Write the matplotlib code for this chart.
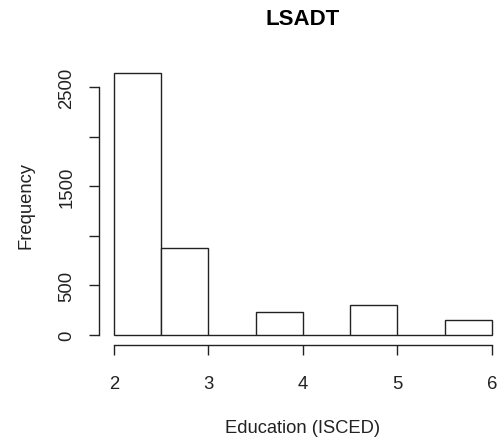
import matplotlib
matplotlib.use("Agg")
import matplotlib.pyplot as plt
import numpy as np

# Histogram of education level (ISCED), bins of width 0.5
bin_edges = [2.0, 2.5, 3.0, 3.5, 4.0, 4.5, 5.0, 5.5, 6.0]
counts = [2641, 877, 0, 232, 0, 302, 0, 151]
x_ticks = [2, 3, 4, 5, 6]
y_ticks = [0, 500, 1000, 1500, 2000, 2500]
y_tick_labels = ["0", "500", "", "1500", "", "2500"]

plt.rcParams['font.family'] = ['Liberation Sans', 'DejaVu Sans']

fig = plt.figure(figsize=(4.99, 4.39), dpi=100)
ax = fig.add_axes([0.198, 0.211, 0.818, 0.644])

lefts = np.array(bin_edges[:-1])
widths = np.diff(bin_edges)
ax.bar(lefts, counts, width=widths, align='edge', facecolor='white',
       edgecolor='#222222', linewidth=1.0)

# R style axis extension (4%)
xr = bin_edges[-1] - bin_edges[0]
ax.set_xlim(bin_edges[0] - 0.04 * xr, bin_edges[-1] + 0.04 * xr)
ymax = max(counts)
ax.set_ylim(-0.04 * ymax, ymax * 1.04)

for s in ['top', 'right']:
    ax.spines[s].set_visible(False)
ax.spines['left'].set_bounds(0, 2500)
ax.spines['bottom'].set_bounds(2, 6)
for s in ['left', 'bottom']:
    ax.spines[s].set_linewidth(1.0)
    ax.spines[s].set_color('#222222')

ax.set_xticks(x_ticks)
ax.set_xticklabels([str(t) for t in x_ticks])
ax.set_yticks(y_ticks)
ax.set_yticklabels(y_tick_labels, rotation=90, va='center')
ax.tick_params(axis='both', length=7.5, width=1.0, color='#222222',
               labelsize=13.3, labelcolor='#222222')
ax.tick_params(axis='x', pad=14)
ax.tick_params(axis='y', pad=9.5)

ax.set_title('LSADT', fontsize=16, fontweight='bold', pad=28)
ax.set_xlabel('Education (ISCED)', fontsize=13.2, labelpad=19.5, color='#222222')
ax.set_ylabel('Frequency', fontsize=13.2, labelpad=17, color='#222222')

fig.savefig('out.png', dpi=100)
